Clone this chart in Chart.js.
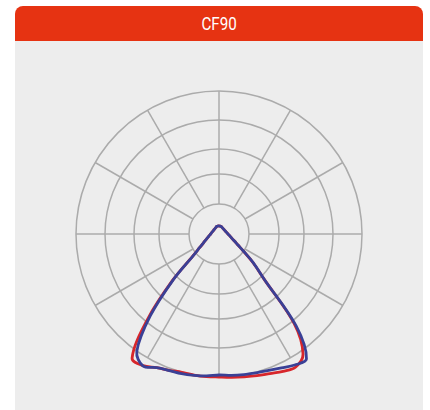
<!DOCTYPE html>
<html>
<head>
<meta charset="utf-8">
<script src="https://cdn.jsdelivr.net/npm/chart.js@4.4.1/dist/chart.umd.min.js"></script>
<style>
  html, body { margin: 0; padding: 0; background: #ffffff; }
  body { width: 430px; height: 410px; position: relative; overflow: hidden; }
  .header {
    position: absolute; left: 15px; top: 6px; width: 408px; height: 35px;
    background: #e63312; border-radius: 8px 8px 0 0;
    color: #fff; text-align: center; line-height: 35px;
    font-family: Roboto, "Noto Sans", sans-serif; font-size: 19px;
  }
  .header span { display: inline-block; transform: scaleX(0.8); }
  .panel {
    position: absolute; left: 15px; top: 41px; width: 408px; height: 369px;
    background: #ededed;
  }
  #photometry { position: absolute; left: 0; top: 0; }
</style>
</head>
<body>
<div class="header"><span>CF90</span></div>
<div class="panel"></div>
<canvas id="photometry" width="430" height="410"></canvas>
<script>
// gamma angles, 0 = straight down, 180 = straight up
const gammaAngles = [0, 5, 10, 15, 20, 25, 30, 35, 40, 45, 50, 55, 60, 65, 70, 75, 80, 85, 90,
    95, 100, 105, 110, 115, 120, 125, 130, 135, 140, 145, 150, 155, 160, 165, 170, 175, 180];

// grid rings (same units as intensities)
const ringValues = [0, 30, 60, 85, 114, 143];
const spokeStep = 30;

// blue curve
const blueLeft = [141, 142.5, 143.5, 144.6, 145.3, 147.5, 152.3, 143.3, 107, 64.8, 33.6, 23.5, 18.1, 15.0, 12.7, 11.1, 10.0, 9.1, 8.4,
    7.9, 7.5, 7.2, 6.9, 6.7, 6.6, 6.6, 6.6, 6.6, 6.7, 6.8, 7.0, 7.3, 7.7, 8.0, 8.1, 8.1, 8.0];
const blueRight = [141, 142, 142.8, 143.7, 145.2, 147.7, 151.3, 152.5, 120, 63.9, 44.6, 29.7, 21.6, 17.3, 14.2, 12.3, 10.9, 9.9, 9.0,
    8.4, 7.9, 7.5, 7.2, 7.0, 6.8, 6.7, 6.7, 6.7, 6.7, 6.8, 7.0, 7.3, 7.6, 7.8, 8.0, 8.0, 8.0];

// red curve
const redLeft = [143, 143.1, 143.2, 143.2, 145, 147.5, 152, 151.5, 111, 66, 34, 23.5, 18.1, 15.0, 12.7, 11.1, 10.0, 9.1, 8.4,
    7.9, 7.5, 7.2, 6.9, 6.7, 6.6, 6.6, 6.6, 6.6, 6.7, 6.8, 7.0, 7.3, 7.7, 8.0, 8.1, 8.1, 8.0];
const redRight = [143, 143.8, 145, 146.7, 148.5, 151.5, 153.5, 146.5, 117, 63.5, 44.3, 29.7, 21.6, 17.3, 14.2, 12.3, 10.9, 9.9, 9.0,
    8.4, 7.9, 7.5, 7.2, 7.0, 6.8, 6.7, 6.7, 6.7, 6.7, 6.8, 7.0, 7.3, 7.6, 7.8, 8.0, 8.0, 8.0];

// radar labels go clockwise from the bottom: left half first, then right half back down
const labels = [];
for (let a = 0; a < 360; a += 5) labels.push(a);

function fullCircle(left, right) {
    const out = left.slice();
    for (let i = right.length - 2; i >= 1; i--) out.push(right[i]);
    return out;
}

const gridColor = '#ababab';

const spokesPlugin = {
    id: 'spokes',
    beforeDatasetsDraw(chart) {
        const scale = chart.scales.r;
        const ctx = chart.ctx;
        const step = spokeStep / 5;
        ctx.save();
        ctx.strokeStyle = gridColor;
        ctx.lineWidth = 1.5;
        for (let i = 0; i < labels.length; i += step) {
            const p0 = scale.getPointPositionForValue(i, ringValues[1]);
            const p1 = scale.getPointPositionForValue(i, ringValues[ringValues.length - 1]);
            ctx.beginPath();
            ctx.moveTo(p0.x, p0.y);
            ctx.lineTo(p1.x, p1.y);
            ctx.stroke();
        }
        ctx.restore();
    }
};

new Chart(document.getElementById('photometry'), {
    type: 'radar',
    data: {
        labels: labels,
        datasets: [
            {
                label: 'C90-C270',
                data: fullCircle(blueLeft, blueRight),
                borderColor: '#3a4096',
                borderWidth: 2.8,
                fill: false,
                pointRadius: 0,
                tension: 0.35
            },
            {
                label: 'C0-C180',
                data: fullCircle(redLeft, redRight),
                borderColor: '#d7262b',
                borderWidth: 2.8,
                fill: false,
                pointRadius: 0,
                tension: 0.35
            }
        ]
    },
    options: {
        responsive: false,
        animation: false,
        layout: {
            padding: { left: 59, right: 51, top: 74, bottom: 16 }
        },
        plugins: {
            legend: { display: false },
            tooltip: { enabled: false }
        },
        scales: {
            r: {
                min: 0,
                max: 160,
                startAngle: 180,
                afterBuildTicks: (scale) => {
                    scale.ticks = ringValues.map(v => ({ value: v }));
                },
                grid: {
                    circular: true,
                    color: gridColor,
                    lineWidth: 1.5
                },
                angleLines: { display: false },
                pointLabels: { display: false },
                ticks: { display: false }
            }
        }
    },
    plugins: [spokesPlugin]
});
</script>
</body>
</html>
